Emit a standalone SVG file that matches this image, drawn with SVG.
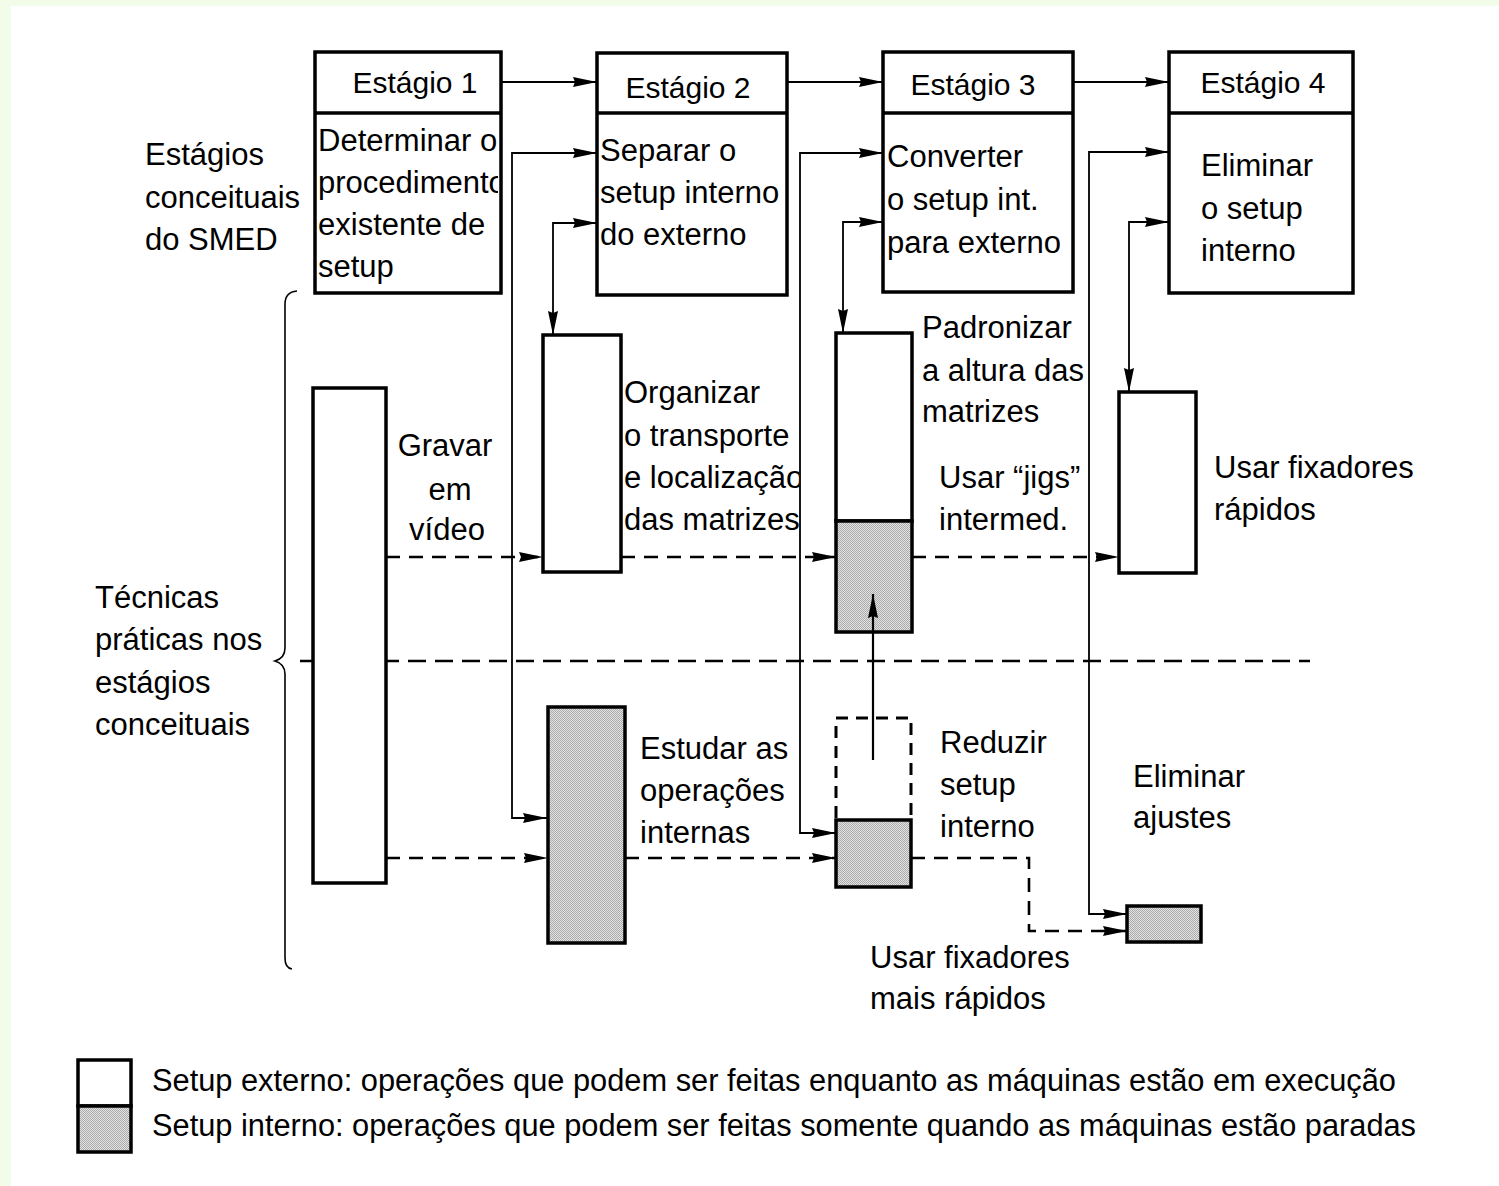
<svg xmlns="http://www.w3.org/2000/svg" width="1499" height="1186" viewBox="0 0 1499 1186">
  <style>
    text { font-family: "Liberation Sans", Arial, sans-serif; font-size: 31px; fill: #000; }
    .hdr { font-size: 30px; text-anchor: middle; }
    .box { fill: #fff; stroke: #000; stroke-width: 3.5; }
    .int { fill: url(#stipple); stroke: #000; stroke-width: 3.5; }
    .wire { fill: none; stroke: #000; stroke-width: 1.8; }
    .flow { fill: none; stroke: #000; stroke-width: 2.6; stroke-dasharray: 14 9; }
    .solid { fill: none; stroke: #000; stroke-width: 2.2; }
  </style>
  <defs>
    <pattern id="stipple" width="2" height="2" patternUnits="userSpaceOnUse">
      <rect width="2" height="2" fill="#e2e2e2"/>
      <rect width="1" height="1" fill="#ababab"/>
      <rect x="1" y="1" width="1" height="1" fill="#ababab"/>
    </pattern>
    <marker id="ah" markerUnits="userSpaceOnUse" markerWidth="26" markerHeight="12" refX="24" refY="5" orient="auto-start-reverse" overflow="visible">
      <path d="M0,0 L24,5 L0,10 L2,5 Z" fill="#000" stroke="none"/>
    </marker>
    <clipPath id="clipS1"><rect x="315" y="112" width="183" height="181"/></clipPath>
    <clipPath id="clipOrg"><rect x="600" y="360" width="199" height="190"/></clipPath>
  </defs>

  <!-- page -->
  <rect width="1499" height="1186" fill="#f2fde9"/>
  <rect x="11" y="6" width="1488" height="1180" fill="#fff"/>

  <!-- side captions -->
  <g id="caption-conceptual">
    <text x="145" y="165">Estágios</text>
    <text x="145" y="208">conceituais</text>
    <text x="145" y="250">do SMED</text>
  </g>
  <g id="caption-practical">
    <text x="95" y="608">Técnicas</text>
    <text x="95" y="650">práticas nos</text>
    <text x="95" y="693">estágios</text>
    <text x="95" y="735">conceituais</text>
  </g>
  <path id="brace" d="M297,291 Q285,292 285,304 V648 Q285,658 275,661 Q285,664 285,674 V958 Q285,968 292,969" fill="none" stroke="#000" stroke-width="1.6"/>

  <!-- separator between the conceptual stages and the practical techniques -->
  <path id="divider" d="M300,661 H1310" fill="none" stroke="#000" stroke-width="2.6" stroke-dasharray="18 9"/>

  <!-- connectors -->
  <g id="connectors">
    <path class="solid" d="M501,82 H597" marker-end="url(#ah)"/>
    <path class="solid" d="M787,82 H883" marker-end="url(#ah)"/>
    <path class="solid" d="M1073,82 H1169" marker-end="url(#ah)"/>

    <path class="wire" d="M547,818 H512 V153 H597" marker-start="url(#ah)" marker-end="url(#ah)"/>
    <path class="wire" d="M597,223 H553 V335" marker-start="url(#ah)" marker-end="url(#ah)"/>
    <path class="wire" d="M836,833 H800 V153 H883" marker-start="url(#ah)" marker-end="url(#ah)"/>
    <path class="wire" d="M883,222 H843 V333" marker-start="url(#ah)" marker-end="url(#ah)"/>
    <path class="wire" d="M1127,914 H1089 V152 H1169" marker-start="url(#ah)" marker-end="url(#ah)"/>
    <path class="wire" d="M1169,222 H1129 V392" marker-start="url(#ah)" marker-end="url(#ah)"/>

    <path class="flow" d="M386,557 H543" marker-end="url(#ah)"/>
    <path class="flow" d="M621,557 H836" marker-end="url(#ah)"/>
    <path class="flow" d="M912,557 H1119" marker-end="url(#ah)"/>
    <path class="flow" d="M386,858 H548" marker-end="url(#ah)"/>
    <path class="flow" d="M625,858 H836" marker-end="url(#ah)"/>
    <path class="flow" d="M911,858 H1029 V931 H1127" marker-end="url(#ah)"/>
  </g>

  <!-- conceptual stages -->
  <g id="stage1">
    <rect class="box" x="315" y="52" width="186" height="241"/>
    <line x1="315" y1="113" x2="501" y2="113" stroke="#000" stroke-width="3.5"/>
    <text class="hdr" x="415" y="93">Estágio 1</text>
    <g clip-path="url(#clipS1)">
      <text x="318" y="151">Determinar o</text>
      <text x="318" y="193">procedimento</text>
      <text x="318" y="235">existente de</text>
      <text x="318" y="277">setup</text>
    </g>
  </g>
  <g id="stage2">
    <rect class="box" x="597" y="53" width="190" height="242"/>
    <line x1="597" y1="113" x2="787" y2="113" stroke="#000" stroke-width="3.5"/>
    <text class="hdr" x="688" y="98">Estágio 2</text>
    <text x="600" y="161">Separar o</text>
    <text x="600" y="203">setup interno</text>
    <text x="600" y="245">do externo</text>
  </g>
  <g id="stage3">
    <rect class="box" x="883" y="52" width="190" height="240"/>
    <line x1="883" y1="113" x2="1073" y2="113" stroke="#000" stroke-width="3.5"/>
    <text class="hdr" x="973" y="95">Estágio 3</text>
    <text x="887" y="167">Converter</text>
    <text x="887" y="210">o setup int.</text>
    <text x="887" y="253">para externo</text>
  </g>
  <g id="stage4">
    <rect class="box" x="1169" y="52" width="184" height="241"/>
    <line x1="1169" y1="113" x2="1353" y2="113" stroke="#000" stroke-width="3.5"/>
    <text class="hdr" x="1263" y="93">Estágio 4</text>
    <text x="1201" y="176">Eliminar</text>
    <text x="1201" y="219">o setup</text>
    <text x="1201" y="261">interno</text>
  </g>

  <!-- practical techniques -->
  <g id="gravar">
    <rect class="box" x="313" y="388" width="73" height="495"/>
    <text x="445" y="456" text-anchor="middle">Gravar</text>
    <text x="450" y="500" text-anchor="middle">em</text>
    <text x="447" y="540" text-anchor="middle">vídeo</text>
  </g>
  <g id="organizar">
    <rect class="box" x="543" y="335" width="78" height="237"/>
    <g clip-path="url(#clipOrg)">
      <text x="624" y="403">Organizar</text>
      <text x="624" y="446">o transporte</text>
      <text x="624" y="488">e localização</text>
      <text x="624" y="530">das matrizes</text>
    </g>
  </g>
  <g id="padronizar">
    <rect class="box" x="836" y="333" width="76" height="188"/>
    <rect class="int" x="836" y="521" width="76" height="111"/>
    <text x="922" y="338">Padronizar</text>
    <text x="922" y="381">a altura das</text>
    <text x="922" y="422">matrizes</text>
  </g>
  <g id="jigs">
    <text x="939" y="488">Usar “jigs”</text>
    <text x="939" y="530">intermed.</text>
  </g>
  <g id="fixadores">
    <rect class="box" x="1119" y="392" width="77" height="181"/>
    <text x="1214" y="478">Usar fixadores</text>
    <text x="1214" y="520">rápidos</text>
  </g>
  <g id="estudar">
    <rect class="int" x="548" y="707" width="77" height="236"/>
    <text x="640" y="759">Estudar as</text>
    <text x="640" y="801">operações</text>
    <text x="640" y="843">internas</text>
  </g>
  <g id="reduzir">
    <path d="M836,818 V718 H911 V818" fill="none" stroke="#000" stroke-width="3" stroke-dasharray="12 8"/>
    <rect class="int" x="836" y="820" width="75" height="67"/>
    <path class="solid" d="M873,760 V594" marker-end="url(#ah)"/>
    <text x="940" y="753">Reduzir</text>
    <text x="940" y="795">setup</text>
    <text x="940" y="837">interno</text>
  </g>
  <g id="ajustes">
    <rect class="int" x="1127" y="906" width="74" height="36"/>
    <text x="1133" y="787">Eliminar</text>
    <text x="1133" y="828">ajustes</text>
  </g>
  <g id="fixadores-rapidos">
    <text x="870" y="968">Usar fixadores</text>
    <text x="870" y="1009">mais rápidos</text>
  </g>

  <!-- legend -->
  <g id="legend">
    <rect class="box" x="78" y="1060" width="53" height="46" stroke-width="3"/>
    <rect class="int" x="78" y="1106" width="53" height="46" stroke-width="3"/>
    <text x="152" y="1091" textLength="1244" lengthAdjust="spacingAndGlyphs">Setup externo: operações que podem ser feitas enquanto as máquinas estão em execução</text>
    <text x="152" y="1136" textLength="1264" lengthAdjust="spacingAndGlyphs">Setup interno: operações que podem ser feitas somente quando as máquinas estão paradas</text>
  </g>
</svg>
